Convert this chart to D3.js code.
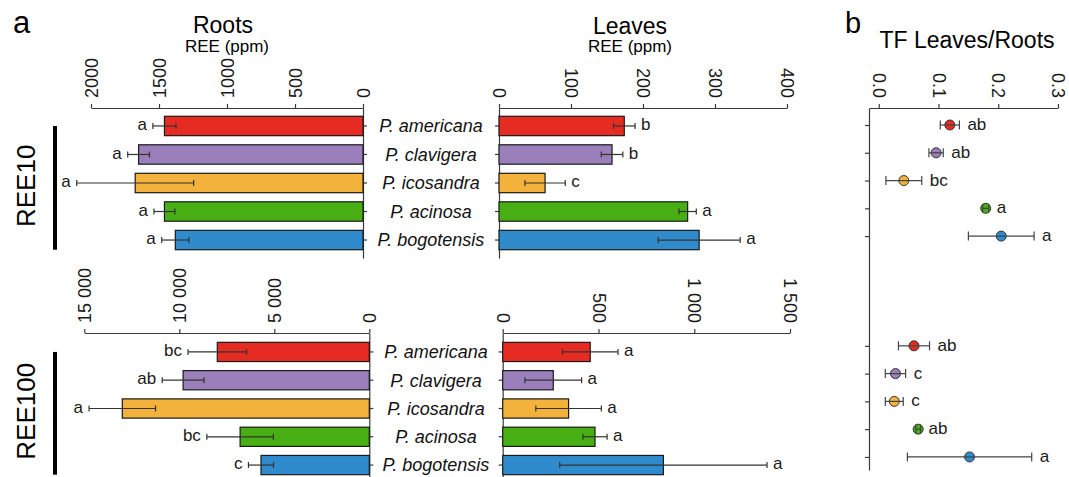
<!DOCTYPE html>
<html>
<head>
<meta charset="utf-8">
<script src="https://cdn.jsdelivr.net/npm/d3@7"></script>
<style>
  body { margin: 0; background: #fff; }
  svg { font-family: "Liberation Sans", Arial, sans-serif; }
</style>
</head>
<body>
<svg id="chart" width="1069" height="477"></svg>
<script>
const species = ['P. americana', 'P. clavigera', 'P. icosandra', 'P. acinosa', 'P. bogotensis'];
const colors = ['#e62b22', '#9a7fbb', '#f3b23c', '#47af13', '#2f8bcb'];

// REE10
const roots10 = [1460, 1650, 1675, 1460, 1380];
const roots10Err = [85, 80, 430, 77, 100];
const roots10Letters = ['a', 'a', 'a', 'a', 'a'];
const leaves10 = [174, 157, 64, 262, 278];
const leaves10Err = [15, 15, 28, 12, 57];
const leaves10Letters = ['b', 'b', 'c', 'a', 'a'];
const tf10 = [0.119, 0.096, 0.042, 0.179, 0.205];
const tf10Err = [0.016, 0.012, 0.030, 0.005, 0.055];
const tf10Letters = ['ab', 'ab', 'bc', 'a', 'a'];

// REE100
const roots100 = [8000, 9800, 13000, 6800, 5700];
const roots100Err = [1540, 1100, 1750, 1750, 660];
const roots100Letters = ['bc', 'ab', 'a', 'bc', 'c'];
const leaves100 = [457, 264, 344, 482, 839];
const leaves100Err = [145, 148, 171, 63, 541];
const leaves100Letters = ['a', 'a', 'a', 'a', 'a'];
const tf100 = [0.059, 0.028, 0.026, 0.066, 0.152];
const tf100Err = [0.026, 0.017, 0.015, 0.004, 0.104];
const tf100Letters = ['ab', 'c', 'c', 'ab', 'a'];

const roots10Ticks = [0, 500, 1000, 1500, 2000];
const leaves10Ticks = [0, 100, 200, 300, 400];
const roots100Ticks = [0, 5000, 10000, 15000];
const leaves100Ticks = [0, 500, 1000, 1500];
const tfTicks = [0, 0.1, 0.2, 0.3];

const svg = d3.select('#chart');
const axisColor = '#3a3a3a';
const spaceFmt = d3.formatLocale({decimal: '.', thousands: ' ', grouping: [3], currency: ['', '']}).format(',');

function styleTickLabels(axisG, side) {
    axisG.selectAll('.domain').attr('stroke', axisColor).attr('stroke-width', 1.2);
    axisG.selectAll('.tick line').attr('stroke', axisColor).attr('stroke-width', 1.2);
    axisG.selectAll('text')
        .attr('y', 0)
        .attr('dy', '0.35em')
        .attr('x', side === 'left' ? 10 : -10)
        .attr('transform', side === 'left' ? 'rotate(-90)' : 'rotate(90)')
        .style('text-anchor', side === 'left' ? 'start' : 'end')
        .style('font-size', '18px')
        .attr('fill', '#1a1a1a');
}

function barPanel({x, y, axisY, values, errs, letters, side, ticks, fmt}) {
    const g = svg.append('g');
    const ax = g.append('g')
        .attr('transform', `translate(0,${axisY})`)
        .call(d3.axisTop(x).tickValues(ticks).tickFormat(fmt).tickSize(4).tickSizeOuter(0));
    styleTickLabels(ax, side);

    const yAxis = side === 'left' ? d3.axisRight(y) : d3.axisLeft(y);
    const ay = g.append('g')
        .attr('transform', `translate(${x(0)},0)`)
        .call(yAxis.tickSize(4).tickSizeOuter(0).tickFormat(''));
    ay.selectAll('.domain').attr('stroke', axisColor).attr('stroke-width', 1.2);
    ay.selectAll('.tick line').attr('stroke', axisColor).attr('stroke-width', 1.2);

    const rows = species.map((s, i) => ({s, v: values[i], e: errs[i], l: letters[i], c: colors[i]}));
    const bw = y.bandwidth();

    g.selectAll('.bar')
        .data(rows)
        .join('rect')
        .attr('class', 'bar')
        .attr('x', d => Math.min(x(d.v), x(0)))
        .attr('width', d => Math.abs(x(d.v) - x(0)))
        .attr('y', d => y(d.s))
        .attr('height', bw)
        .attr('fill', d => d.c)
        .attr('stroke', '#1a1a1a')
        .attr('stroke-width', 1.2);

    const err = g.selectAll('.err')
        .data(rows)
        .join('g')
        .attr('class', 'err')
        .attr('transform', d => `translate(0,${y(d.s) + bw / 2})`)
        .attr('stroke', '#333')
        .attr('stroke-width', 1.2);
    err.append('line')
        .attr('x1', d => x(d.v - d.e))
        .attr('x2', d => x(d.v + d.e));
    err.append('line')
        .attr('x1', d => x(d.v - d.e)).attr('x2', d => x(d.v - d.e))
        .attr('y1', -3).attr('y2', 3);
    err.append('line')
        .attr('x1', d => x(d.v + d.e)).attr('x2', d => x(d.v + d.e))
        .attr('y1', -3).attr('y2', 3);

    g.selectAll('.letter')
        .data(rows)
        .join('text')
        .attr('class', 'letter')
        .attr('x', d => x(d.v + d.e) + (side === 'left' ? -6 : 6))
        .attr('y', d => y(d.s) + bw / 2)
        .attr('dy', '0.25em')
        .attr('text-anchor', side === 'left' ? 'end' : 'start')
        .style('font-size', '17px')
        .attr('fill', '#1a1a1a')
        .text(d => d.l);
}

function speciesLabels(xl, xr, y) {
    svg.append('g')
        .selectAll('text')
        .data(species)
        .join('text')
        .attr('x', (xl(0) + xr(0)) / 2)
        .attr('y', d => y(d) + y.bandwidth() / 2)
        .attr('dy', '0.35em')
        .attr('text-anchor', 'middle')
        .style('font-size', '18px')
        .style('font-style', 'italic')
        .attr('fill', '#111')
        .text(d => d);
}

function groupLabel(y, label) {
    const top = y(species[0]) + y.bandwidth() / 2;
    const bottom = y(species[species.length - 1]) + y.bandwidth();
    svg.append('line')
        .attr('x1', 55).attr('x2', 55)
        .attr('y1', top).attr('y2', bottom)
        .attr('stroke', '#000').attr('stroke-width', 4);
    svg.append('text')
        .attr('transform', `translate(26,${(top + bottom) / 2 - 2}) rotate(-90)`)
        .attr('dy', '0.35em')
        .attr('text-anchor', 'middle')
        .style('font-size', '26px')
        .attr('fill', '#000')
        .text(label);
}

// --- REE10 row
const y10 = d3.scaleBand().domain(species).range([108, 258]).paddingInner(0.32).paddingOuter(0.29);
const xRoots10 = d3.scaleLinear().domain([2000, 0]).range([91, 363]);
const xLeaves10 = d3.scaleLinear().domain([0, 400]).range([499, 787]);
barPanel({x: xRoots10, y: y10, axisY: 108, values: roots10, errs: roots10Err, letters: roots10Letters,
    side: 'left', ticks: roots10Ticks, fmt: d3.format('d')});
barPanel({x: xLeaves10, y: y10, axisY: 108, values: leaves10, errs: leaves10Err, letters: leaves10Letters,
    side: 'right', ticks: leaves10Ticks, fmt: d3.format('d')});
speciesLabels(xRoots10, xLeaves10, y10);
groupLabel(y10, 'REE10');

// --- REE100 row
const y100 = d3.scaleBand().domain(species).range([333, 484]).paddingInner(0.32).paddingOuter(0.33);
const xRoots100 = d3.scaleLinear().domain([15000, 0]).range([84.3, 369.3]);
const xLeaves100 = d3.scaleLinear().domain([0, 1500]).range([502.7, 790]);
barPanel({x: xRoots100, y: y100, axisY: 333, values: roots100, errs: roots100Err, letters: roots100Letters,
    side: 'left', ticks: roots100Ticks, fmt: spaceFmt});
barPanel({x: xLeaves100, y: y100, axisY: 333, values: leaves100, errs: leaves100Err, letters: leaves100Letters,
    side: 'right', ticks: leaves100Ticks, fmt: spaceFmt});
speciesLabels(xRoots100, xLeaves100, y100);
groupLabel(y100, 'REE100');

// --- panel b: transfer factor
const xTF = d3.scaleLinear().domain([-0.0163, 0.3]).range([869, 1058]);
const yTF = d3.scaleLinear().domain([-0.612, 12.42]).range([108, 470]);
const tfRows = [
    ...species.map((s, i) => ({row: i, v: tf10[i], e: tf10Err[i], l: tf10Letters[i], c: colors[i]})),
    ...species.map((s, i) => ({row: i + 7.95, v: tf100[i], e: tf100Err[i], l: tf100Letters[i], c: colors[i]}))
];
const bx = svg.append('g')
    .attr('transform', `translate(0,${yTF.range()[0]})`)
    .call(d3.axisTop(xTF).tickValues(tfTicks).tickFormat(d3.format('.1f')).tickSize(4).tickSizeOuter(0));
styleTickLabels(bx, 'right');
const by = svg.append('g')
    .attr('transform', `translate(${xTF.range()[0]},0)`)
    .call(d3.axisLeft(yTF).tickValues(tfRows.map(d => d.row)).tickFormat('').tickSize(4).tickSizeOuter(0));
by.selectAll('.domain').attr('stroke', axisColor).attr('stroke-width', 1.2);
by.selectAll('.tick line').attr('stroke', axisColor).attr('stroke-width', 1.2);

const pts = svg.append('g');
pts.selectAll('circle')
    .data(tfRows)
    .join('circle')
    .attr('cx', d => xTF(d.v))
    .attr('cy', d => yTF(d.row))
    .attr('r', 5)
    .attr('fill', d => d.c)
    .attr('stroke', '#333')
    .attr('stroke-width', 1);
const tfErr = pts.selectAll('.err')
    .data(tfRows)
    .join('g')
    .attr('class', 'err')
    .attr('transform', d => `translate(0,${yTF(d.row)})`)
    .attr('stroke', '#444')
    .attr('stroke-width', 1.2);
tfErr.append('line').attr('x1', d => xTF(d.v - d.e)).attr('x2', d => xTF(d.v + d.e));
tfErr.append('line').attr('x1', d => xTF(d.v - d.e)).attr('x2', d => xTF(d.v - d.e)).attr('y1', -4.5).attr('y2', 4.5);
tfErr.append('line').attr('x1', d => xTF(d.v + d.e)).attr('x2', d => xTF(d.v + d.e)).attr('y1', -4.5).attr('y2', 4.5);
pts.selectAll('.letter')
    .data(tfRows)
    .join('text')
    .attr('class', 'letter')
    .attr('x', d => xTF(d.v + d.e) + 8)
    .attr('y', d => yTF(d.row))
    .attr('dy', '0.3em')
    .style('font-size', '17px')
    .attr('fill', '#1a1a1a')
    .text(d => d.l);

// --- titles
const titles = svg.append('g').attr('fill', '#000').attr('text-anchor', 'middle');
titles.append('text').attr('x', 223).attr('y', 33).style('font-size', '23px').text('Roots');
titles.append('text').attr('x', 227).attr('y', 52).style('font-size', '17px').text('REE (ppm)');
titles.append('text').attr('x', 630).attr('y', 34).style('font-size', '23px').text('Leaves');
titles.append('text').attr('x', 630).attr('y', 52).style('font-size', '17px').text('REE (ppm)');
titles.append('text').attr('x', 967).attr('y', 48).style('font-size', '23px').text('TF Leaves/Roots');
svg.append('text').attr('x', 13).attr('y', 33).style('font-size', '31px').text('a');
svg.append('text').attr('x', 845).attr('y', 33).style('font-size', '29px').text('b');
</script>
</body>
</html>
